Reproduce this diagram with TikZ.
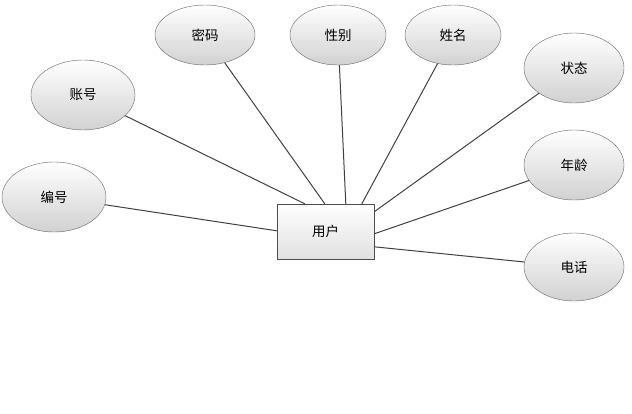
\documentclass[tikz,border=0pt]{standalone}
\usepackage{fontspec}
\newfontfamily\cjk{Noto Sans CJK SC}
\usetikzlibrary{shapes.geometric,calc}
\begin{document}
\begin{tikzpicture}[x=1pt,y=-1pt,
  attr/.style={ellipse,draw=black!60,top color=white,bottom color=black!18,inner sep=0pt,font=\cjk\fontsize{13.5}{16}\selectfont},
  ent/.style={rectangle,draw=black!70,top color=white,bottom color=black!12,minimum width=97pt,minimum height=55pt,font=\cjk\fontsize{13.5}{16}\selectfont},
  conn/.style={draw=black!75,line width=1pt}]
\useasboundingbox (0,0) rectangle (632,413);
\node[ent] (u) at (325.5,231.5) {用户};
\node[attr,minimum width=104pt,minimum height=70pt] (zh) at (83,95) {账号};
\node[attr,minimum width=100pt,minimum height=60pt] (mm) at (205,35) {密码};
\node[attr,minimum width=96pt,minimum height=60pt] (xb) at (338,35) {性别};
\node[attr,minimum width=96pt,minimum height=60pt] (xm) at (453,35) {姓名};
\node[attr,minimum width=100pt,minimum height=70pt] (zt) at (574,68) {状态};
\node[attr,minimum width=100pt,minimum height=70pt] (nl) at (574,165) {年龄};
\node[attr,minimum width=104pt,minimum height=70pt] (bh) at (54,197) {编号};
\node[attr,minimum width=100pt,minimum height=68pt] (dh) at (574,267) {电话};
\coordinate (p1) at ($(u.north west)+(28,0)$);
\coordinate (p2) at ($(u.north west)+(48,0)$);
\coordinate (p3) at ($(u.north west)+(69,0)$);
\coordinate (p4) at ($(u.north west)+(85,0)$);
\coordinate (p5) at ($(u.north east)+(0,8)$);
\coordinate (p6) at ($(u.north east)+(0,30)$);
\coordinate (p7) at ($(u.north east)+(0,43)$);
\coordinate (p8) at ($(u.north west)+(0,27)$);
\draw[conn] (zh) -- (p1);
\draw[conn] (mm) -- (p2);
\draw[conn] (xb) -- (p3);
\draw[conn] (xm) -- (p4);
\draw[conn] (zt) -- (p5);
\draw[conn] (nl) -- (p6);
\draw[conn] (dh) -- (p7);
\draw[conn] (bh) -- (p8);
\end{tikzpicture}
\end{document}
